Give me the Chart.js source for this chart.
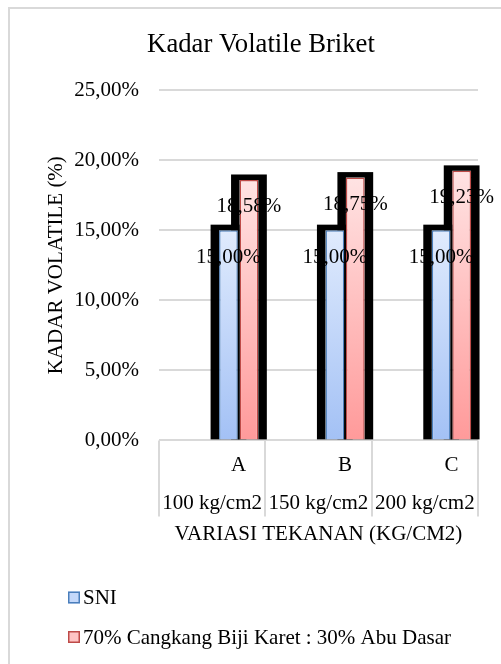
<!DOCTYPE html>
<html>
<head>
<meta charset="utf-8">
<title>Kadar Volatile Briket</title>
<script src="https://cdn.jsdelivr.net/npm/chart.js@4"></script>
<style>
  html, body { margin: 0; padding: 0; background: #ffffff; }
  #wrap { position: relative; width: 501px; height: 664px; }
</style>
</head>
<body>
<div id="wrap"><canvas id="chart"></canvas></div>
<script>
// ---- data ----
const groups = ['A', 'B', 'C'];
const pressures = ['100 kg/cm2', '150 kg/cm2', '200 kg/cm2'];
const sniValues = [15.00, 15.00, 15.00];
const blendValues = [18.58, 18.75, 19.23];
const seriesNames = ['SNI', '70% Cangkang Biji Karet : 30% Abu Dasar'];
const yTicks = [0, 5, 10, 15, 20, 25];

// each pressure holds a blank slot followed by its lettered slot
const innerLabels = groups.flatMap(g => ['', g]);
const pad = arr => arr.flatMap(v => [null, v]);

const FONT = "'Liberation Serif', 'Times New Roman', serif";
const GRID = '#d9d9d9';

const fmtPct = v => v.toFixed(2).replace('.', ',') + '%';

function barGradient(top, bottom) {
  return (c) => {
    const chart = c.chart;
    const y = chart.scales && chart.scales.y;
    if (!chart.chartArea || !y || c.raw == null) return bottom;
    const g = chart.ctx.createLinearGradient(0, y.getPixelForValue(c.raw), 0, y.getPixelForValue(0));
    g.addColorStop(0, top);
    g.addColorStop(1, bottom);
    return g;
  };
}

const styles = [
  { top: '#e0ebfd', bottom: '#a3c1f5', border: '#4a7ebb', legendFill: '#c4d8fa' },
  { top: '#ffe3e3', bottom: '#ff9a9a', border: '#be4b48', legendFill: '#ffc4c4' }
];

// light frame around the figure
const framePlugin = {
  id: 'frame',
  beforeDraw(chart) {
    const ctx = chart.ctx;
    ctx.save();
    ctx.fillStyle = '#ffffff';
    ctx.fillRect(0, 0, chart.width, chart.height);
    ctx.strokeStyle = GRID;
    ctx.lineWidth = 2;
    ctx.strokeRect(9, 8, chart.width + 20, chart.height + 20);
    ctx.restore();
  }
};

// value labels, then the heavy black outline around every bar
const RING_SIDE = 8.5, RING_TOP = 5.5;
const barDecor = {
  id: 'barDecor',
  afterDatasetsDraw(chart) {
    const ctx = chart.ctx;
    const bars = [];
    chart.data.datasets.forEach((ds, di) => {
      const meta = chart.getDatasetMeta(di);
      meta.data.forEach((el, i) => {
        if (ds.data[i] == null) return;
        const p = el.getProps(['x', 'y', 'base', 'width'], true);
        bars.push({ p, v: ds.data[i] });
      });
    });
    // labels
    ctx.save();
    ctx.font = '21px ' + FONT;
    ctx.fillStyle = '#000000';
    ctx.textAlign = 'center';
    ctx.textBaseline = 'middle';
    bars.forEach(b => ctx.fillText(fmtPct(b.v), b.p.x, b.p.y + 27));
    ctx.restore();
    // outline: expanded rectangles, bars themselves left uncovered
    ctx.save();
    ctx.beginPath();
    ctx.rect(0, 0, chart.width, chart.height);
    bars.forEach(b => ctx.rect(b.p.x - b.p.width / 2, b.p.y, b.p.width, b.p.base - b.p.y));
    ctx.clip('evenodd');
    ctx.fillStyle = '#000000';
    bars.forEach(b => {
      ctx.fillRect(b.p.x - b.p.width / 2 - RING_SIDE, b.p.y - RING_TOP,
                   b.p.width + 2 * RING_SIDE, b.p.base - b.p.y + RING_TOP);
    });
    ctx.restore();
  }
};

// divider lines between the pressure groups under the plot
const dividers = {
  id: 'dividers',
  afterDraw(chart) {
    const x2 = chart.scales.x2;
    const ctx = chart.ctx;
    ctx.save();
    ctx.strokeStyle = GRID;
    ctx.lineWidth = 2;
    for (let i = 0; i <= pressures.length; i++) {
      const px = Math.round(x2.getPixelForValue(i - 0.5));
      ctx.beginPath();
      ctx.moveTo(px, chart.chartArea.bottom);
      ctx.lineTo(px, x2.top + 26);
      ctx.stroke();
    }
    ctx.restore();
  }
};

// legend as a vertical list
const LEGEND_LEFT = 68, LEGEND_TOP = 597.5, LEGEND_ROW = 39.5;
const listLegend = {
  id: 'listLegend',
  afterDraw(chart) {
    const ctx = chart.ctx;
    ctx.save();
    ctx.font = '21px ' + FONT;
    ctx.textBaseline = 'middle';
    ctx.textAlign = 'left';
    chart.data.datasets.forEach((ds, i) => {
      const cy = LEGEND_TOP + i * LEGEND_ROW;
      ctx.fillStyle = styles[i].legendFill;
      ctx.fillRect(LEGEND_LEFT, cy - 6, 12, 12);
      ctx.strokeStyle = styles[i].border;
      ctx.lineWidth = 1.5;
      ctx.strokeRect(LEGEND_LEFT + 0.75, cy - 5.25, 10.5, 10.5);
      ctx.fillStyle = '#000000';
      ctx.fillText(ds.label, LEGEND_LEFT + 15, cy + 1);
    });
    ctx.restore();
  }
};

const datasets = [sniValues, blendValues].map((vals, i) => ({
  label: seriesNames[i],
  data: pad(vals),
  backgroundColor: barGradient(styles[i].top, styles[i].bottom),
  borderColor: styles[i].border,
  borderWidth: 1.5,
  categoryPercentage: 0.77,
  barPercentage: 0.917
}));

new Chart(document.getElementById('chart'), {
  type: 'bar',
  data: { labels: innerLabels, datasets },
  plugins: [framePlugin, barDecor, dividers, listLegend],
  options: {
    responsive: true,
    maintainAspectRatio: false,
    animation: false,
    layout: { padding: { top: 10, left: 44, right: 23, bottom: 115 } },
    plugins: {
      legend: { display: false },
      tooltip: { enabled: false },
      title: {
        display: true,
        text: 'Kadar Volatile Briket',
        color: '#000000',
        font: { family: FONT, size: 26.7, weight: 'normal' },
        padding: { top: 18.5, bottom: 29.46 }
      }
    },
    scales: {
      y: {
        min: 0,
        max: 25,
        afterBuildTicks: s => { s.ticks = yTicks.map(v => ({ value: v })); },
        ticks: {
          padding: 20,
          color: '#000000',
          font: { family: FONT, size: 21 },
          callback: v => fmtPct(v)
        },
        grid: { color: GRID, lineWidth: 2, drawTicks: false },
        border: { display: false },
        title: {
          display: true,
          text: 'KADAR VOLATILE (%)',
          color: '#000000',
          font: { family: FONT, size: 21 },
          padding: { top: 0, bottom: -15 }
        }
      },
      x: {
        weight: 0,
        ticks: {
          autoSkip: false,
          maxRotation: 0,
          padding: 12.5,
          color: '#000000',
          font: { family: FONT, size: 21 }
        },
        grid: { display: false, drawTicks: false },
        border: { display: false }
      },
      x2: {
        type: 'category',
        position: 'bottom',
        weight: 1,
        labels: pressures,
        offset: true,
        ticks: {
          autoSkip: false,
          maxRotation: 0,
          padding: 0,
          color: '#000000',
          font: { family: FONT, size: 21 }
        },
        grid: { display: false, drawTicks: false },
        border: { display: false },
        title: {
          display: true,
          text: 'VARIASI TEKANAN (KG/CM2)',
          color: '#000000',
          font: { family: FONT, size: 21 },
          padding: { top: 6, bottom: 2 }
        }
      }
    }
  }
});
</script>
</body>
</html>
